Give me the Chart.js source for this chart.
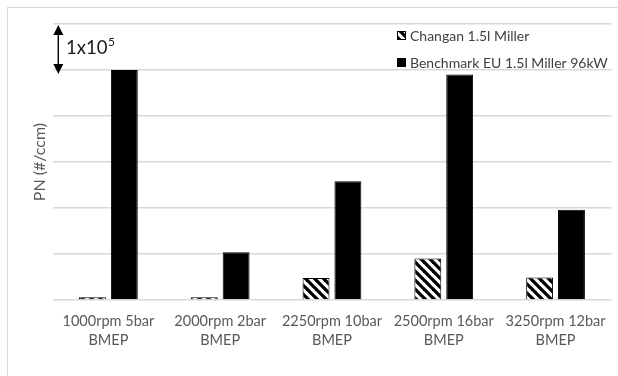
<!DOCTYPE html>
<html><head><meta charset="utf-8">
<script src="https://cdn.jsdelivr.net/npm/chart.js@4.4.1/dist/chart.umd.min.js"></script>
<style>html,body{margin:0;padding:0;background:#fff;overflow:hidden}
#wrap{position:absolute;left:0;top:0;width:618px;height:376px}</style>
</head><body>
<div id="wrap"><canvas id="c" width="618" height="376"></canvas></div>
<script>
// Data (PN in units of 1x10^5 #/ccm)
const categories = [
  ['1000rpm 5bar', 'BMEP'],
  ['2000rpm 2bar', 'BMEP'],
  ['2250rpm 10bar', 'BMEP'],
  ['2500rpm 16bar', 'BMEP'],
  ['3250rpm 12bar', 'BMEP']
];
const seriesNames = ['Changan 1.5l Miller', 'Benchmark EU 1.5l Miller 96kW'];
const changanValues = [0.06, 0.06, 0.48, 0.90, 0.49];
const benchmarkValues = [5.00, 1.04, 2.58, 4.90, 1.96];
const yTickValues = [0, 1, 2, 3, 4, 5, 6];
const yAxisTitle = 'PN (#/ccm)';
const scaleNoteBase = '1x10';
const scaleNoteExp = '5';

const FONT = 'Lato, "Liberation Sans", sans-serif';

function makeHatch() {
  const s = 9;
  const p = document.createElement('canvas');
  p.width = s; p.height = s;
  const g = p.getContext('2d');
  g.fillStyle = '#fff'; g.fillRect(0, 0, s, s);
  g.strokeStyle = '#000'; g.lineWidth = 3.3; g.lineCap = 'square';
  for (const o of [-s, 0, s]) {
    g.beginPath(); g.moveTo(o, 0); g.lineTo(o + s, s); g.stroke();
  }
  return document.getElementById('c').getContext('2d').createPattern(p, 'repeat');
}
const hatch = makeHatch();

const decorPlugin = {
  id: 'decor',
  beforeDraw(chart) {
    const ctx = chart.ctx;
    ctx.save();
    ctx.fillStyle = '#fff';
    ctx.fillRect(0, 0, chart.width, chart.height);
    ctx.strokeStyle = '#d9d9d9';
    ctx.lineWidth = 1;
    ctx.strokeRect(7.5, 7.5, 640, 400);
    ctx.restore();
  },
  afterDraw(chart) {
    const ctx = chart.ctx;
    const y = chart.scales.y;
    ctx.save();
    // scale note arrow (one major interval)
    const ax = 58.3;
    const yTop = y.getPixelForValue(6) + 1;
    const yBot = y.getPixelForValue(5) + 4;
    ctx.strokeStyle = '#000'; ctx.fillStyle = '#000'; ctx.lineWidth = 1.4;
    ctx.beginPath(); ctx.moveTo(ax, yTop + 8); ctx.lineTo(ax, yBot - 8); ctx.stroke();
    ctx.beginPath(); ctx.moveTo(ax, yTop); ctx.lineTo(ax - 5, yTop + 10); ctx.lineTo(ax + 5, yTop + 10); ctx.closePath(); ctx.fill();
    ctx.beginPath(); ctx.moveTo(ax, yBot); ctx.lineTo(ax - 5, yBot - 10); ctx.lineTo(ax + 5, yBot - 10); ctx.closePath(); ctx.fill();
    ctx.fillStyle = '#1a1a1a';
    ctx.textBaseline = 'alphabetic';
    ctx.font = '18.5px ' + FONT;
    ctx.fillText(scaleNoteBase, 66, 54);
    const w = ctx.measureText(scaleNoteBase).width;
    ctx.font = '12px ' + FONT;
    ctx.fillText(scaleNoteExp, 66 + w + 0.5, 46);

    // legend
    ctx.font = '14px ' + FONT;
    ctx.textBaseline = 'middle';
    chart.data.datasets.forEach((ds, i) => {
      const bx = 397, by = 31 + i * 27;
      ctx.fillStyle = ds.backgroundColor;
      ctx.fillRect(bx, by, 9, 9);
      ctx.strokeStyle = '#000'; ctx.lineWidth = 1;
      ctx.strokeRect(bx + 0.5, by + 0.5, 8, 8);
      ctx.fillStyle = '#404040';
      ctx.fillText(ds.label, 410, by + 5);
    });
    ctx.restore();
  }
};

new Chart(document.getElementById('c'), {
  type: 'bar',
  data: {
    labels: categories,
    datasets: [
      { label: seriesNames[0], data: changanValues, backgroundColor: hatch, borderColor: '#000', borderWidth: 1 },
      { label: seriesNames[1], data: benchmarkValues, backgroundColor: '#000', borderColor: '#000', borderWidth: 1 }
    ]
  },
  options: {
    responsive: false,
    animation: false,
    devicePixelRatio: 1,
    layout: { padding: { top: 24, right: 4, left: 0, bottom: 0 } },
    datasets: { bar: { categoryPercentage: 0.57, barPercentage: 0.844 } },
    plugins: { legend: { display: false }, tooltip: { enabled: false } },
    scales: {
      x: {
        grid: { display: false, drawTicks: false },
        border: { display: false },
        ticks: { color: '#595959', font: { family: FONT, size: 14.5, lineHeight: 1.31 }, padding: 12, maxRotation: 0, autoSkip: false },
        afterFit: s => { s.height = 76; }
      },
      y: {
        min: 0, max: 6,
        afterBuildTicks: s => { s.ticks = yTickValues.map(v => ({ value: v })); },
        ticks: { display: false },
        grid: { color: '#d9d9d9', lineWidth: 1.6, drawTicks: false },
        border: { display: false },
        title: { display: true, text: yAxisTitle, color: '#595959', font: { family: FONT, size: 16 }, padding: { top: 30, bottom: 0 } },
        afterFit: s => { s.width = 52.5; }
      }
    }
  },
  plugins: [decorPlugin]
});
</script>
</body></html>
